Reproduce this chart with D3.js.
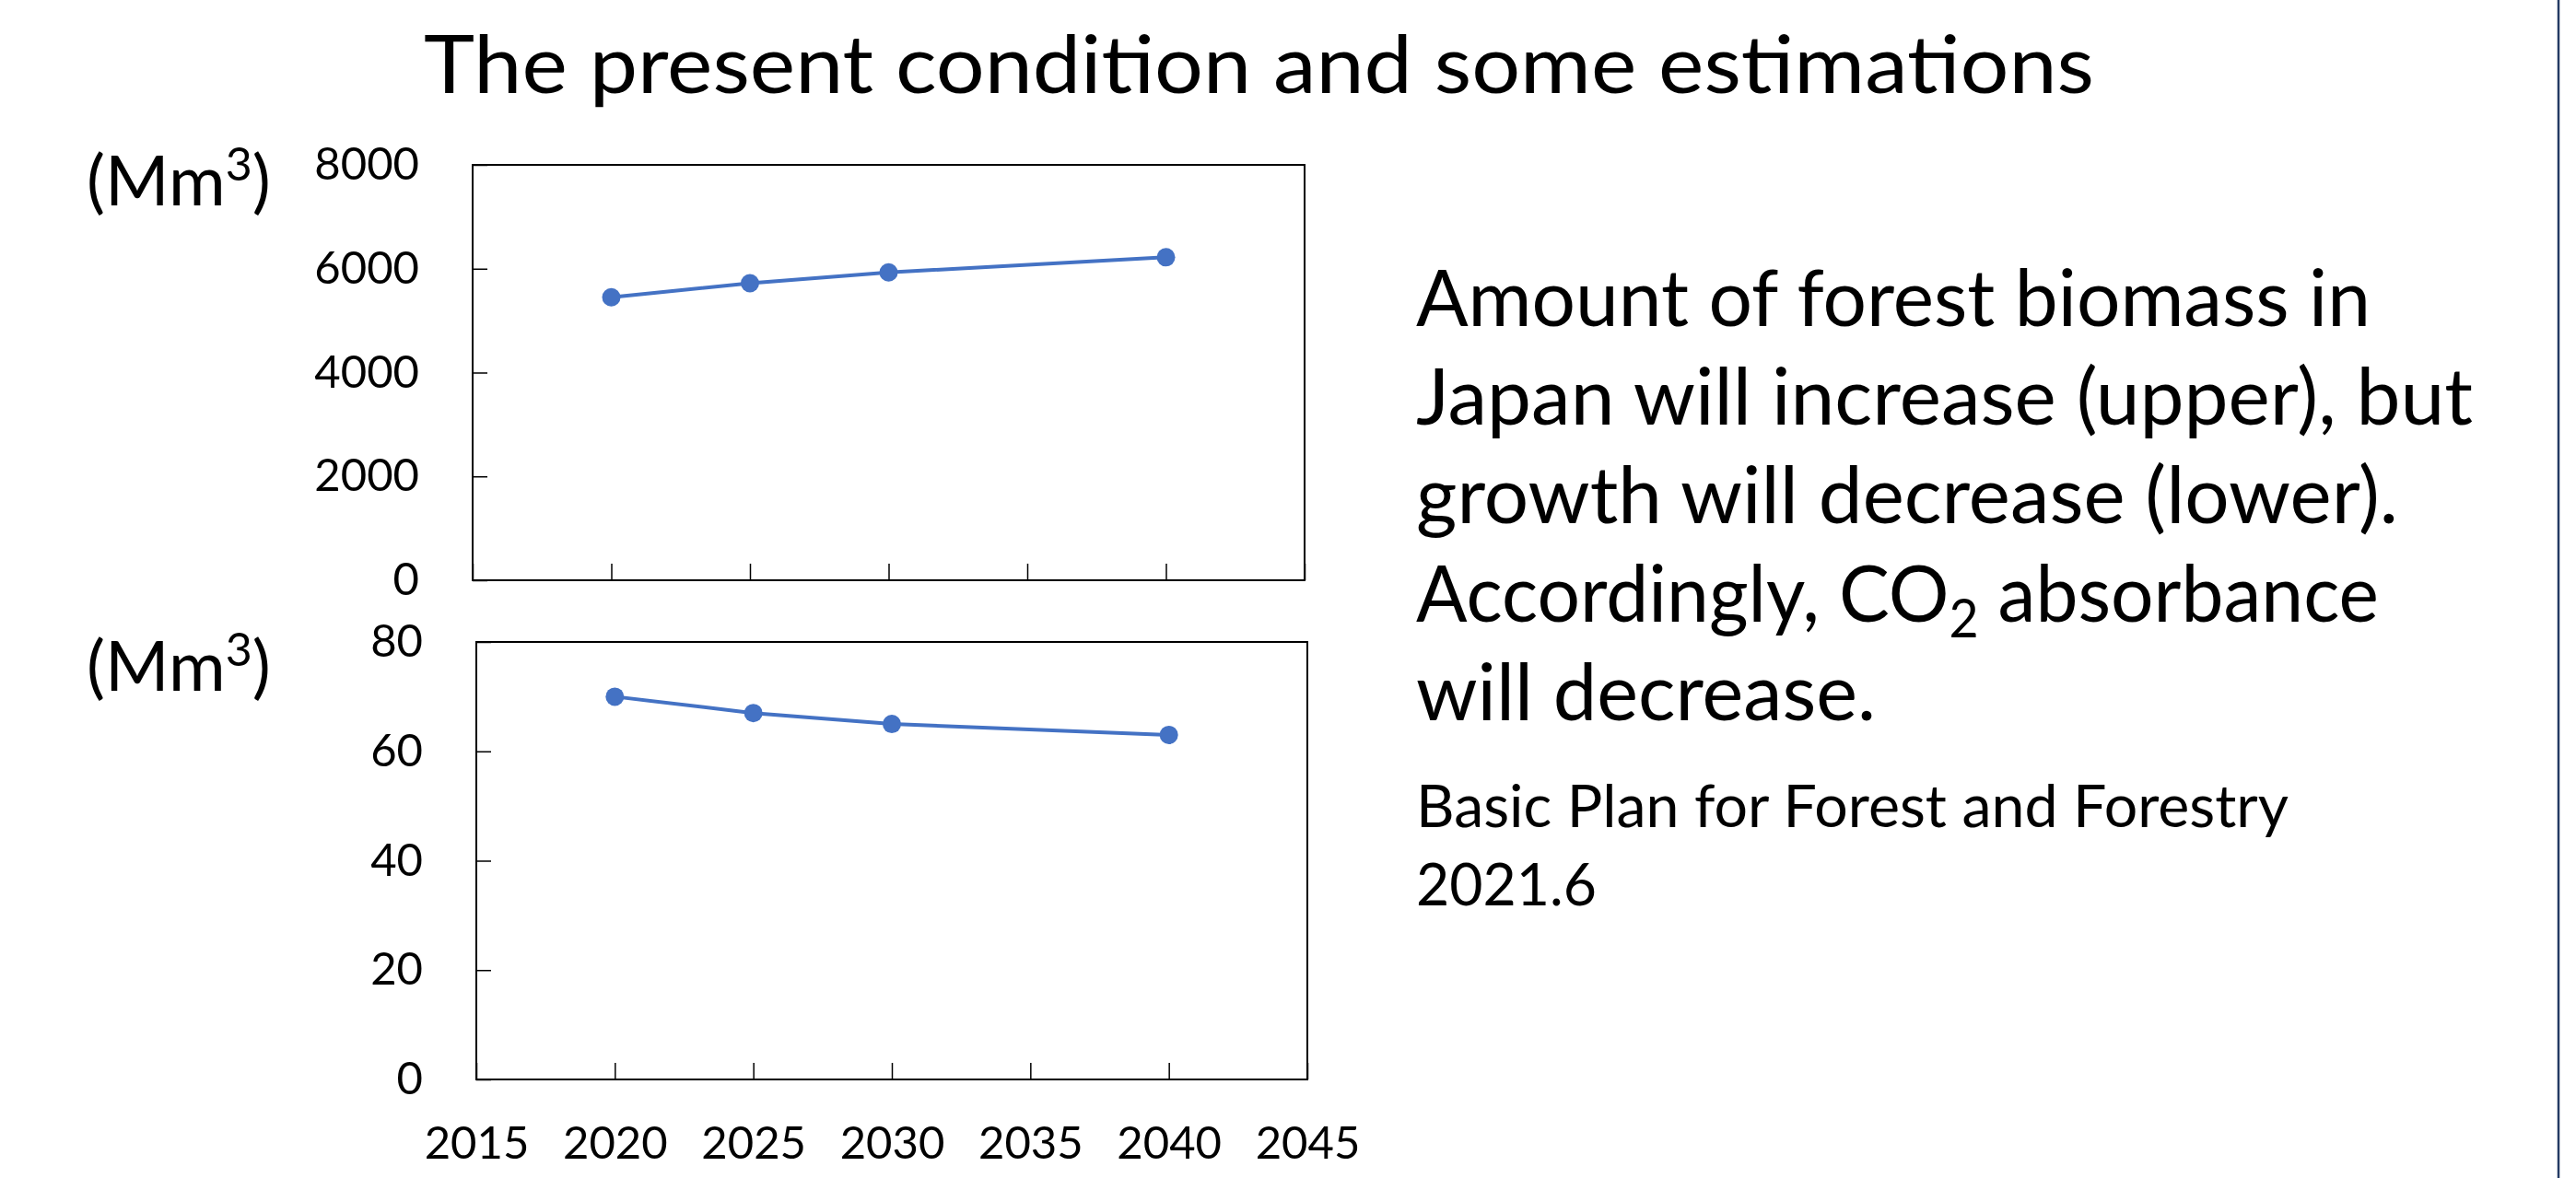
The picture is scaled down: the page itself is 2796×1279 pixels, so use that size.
<!DOCTYPE html>
<html>
<head>
<meta charset="utf-8">
<title>The present condition and some estimations</title>
<script src="https://d3js.org/d3.v7.min.js"></script>
<style>
  body { margin: 0; background: #fff; }
  svg text { font-family: Lato, "Open Sans", sans-serif; fill: #000; }
  .axis path { display: none; }
  .axis line { stroke: #000; stroke-width: 1.5; }
  .axis text { font-size: 49px; fill: #000; }
</style>
</head>
<body>
<div id="wrapper"></div>
<script>
// values
const years = [2020, 2025, 2030, 2040];
const stock = [5450, 5720, 5930, 6220];     // forest biomass, Mm3
const growth = [70, 67, 65, 63];            // growth, Mm3
const xTicks = [2015, 2020, 2025, 2030, 2035, 2040, 2045];
const stockTicks = [0, 2000, 4000, 6000, 8000];
const growthTicks = [0, 20, 40, 60, 80];
const bodyLines = [
  "Amount of forest biomass in",
  "Japan will increase (upper), but",
  "growth will decrease (lower).",
  ["Accordingly, CO", "2", " absorbance"],
  "will decrease."
];
const bodyWidths = [1036, 1147, 1066, 1045, 499];
const sourceLines = ["Basic Plan for Forest and Forestry", "2021.6"];
const sourceWidths = [947, 196];

const W = 2796, H = 1279;
const blue = "#4472C4";

const svg = d3.select("#wrapper").append("svg").attr("width", W).attr("height", H);

svg.append("text")
  .attr("x", 460).attr("y", 101)
  .attr("textLength", 1813).attr("lengthAdjust", "spacingAndGlyphs")
  .style("font-size", "88px")
  .text("The present condition and some estimations");

function drawPanel(box, values, yTicks, showXLabels) {
  const x = d3.scaleLinear().domain([2015, 2045]).range([box.left, box.right]);
  const y = d3.scaleLinear().domain([yTicks[0], yTicks[yTicks.length - 1]]).range([box.bottom, box.top]);

  svg.append("rect")
    .attr("x", box.left).attr("y", box.top)
    .attr("width", box.right - box.left).attr("height", box.bottom - box.top)
    .attr("fill", "none").attr("stroke", "#000").attr("stroke-width", 2);

  svg.append("g").attr("class", "axis")
    .attr("transform", `translate(${box.left},0)`)
    .call(d3.axisLeft(y).tickValues(yTicks).tickSize(-16).tickPadding(58).tickFormat(d3.format("d")));

  svg.append("g").attr("class", "axis")
    .attr("transform", `translate(0,${box.bottom})`)
    .call(d3.axisBottom(x).tickValues(xTicks).tickSize(-18).tickPadding(51)
      .tickFormat(showXLabels ? d3.format("d") : () => ""));

  const pts = years.map((yr, i) => [x(yr), y(values[i])]);
  svg.append("path")
    .attr("d", d3.line()(pts))
    .attr("fill", "none").attr("stroke", blue).attr("stroke-width", 4);
  svg.selectAll(null).data(pts).join("circle")
    .attr("cx", d => d[0]).attr("cy", d => d[1]).attr("r", 10).attr("fill", blue);

  const unit = svg.append("text")
    .attr("x", 94).attr("y", box.unitY)
    .style("font-size", "75px");
  unit.append("tspan").text("(Mm");
  unit.append("tspan").attr("dy", -27).style("font-size", "50px").text("3");
  unit.append("tspan").attr("dy", 27).text(")");
}

drawPanel({ left: 513, right: 1416, top: 179, bottom: 630, unitY: 223 }, stock, stockTicks, false);
drawPanel({ left: 517, right: 1419, top: 697, bottom: 1172, unitY: 750 }, growth, growthTicks, true);

// explanation text
const body = svg.append("g").style("font-size", "86px");
bodyLines.forEach((line, i) => {
  const t = body.append("text").attr("x", 1537).attr("y", 354 + i * 107)
    .attr("textLength", bodyWidths[i]).attr("lengthAdjust", "spacingAndGlyphs");
  if (Array.isArray(line)) {
    t.append("tspan").text(line[0]);
    t.append("tspan").attr("dy", 17).style("font-size", "58px").text(line[1]);
    t.append("tspan").attr("dy", -17).text(line[2]);
  } else {
    t.text(line);
  }
});

sourceLines.forEach((line, i) => {
  svg.append("text").attr("x", 1537).attr("y", 898 + i * 85)
    .attr("textLength", sourceWidths[i]).attr("lengthAdjust", "spacingAndGlyphs")
    .style("font-size", "64px").text(line);
});

// right edge rule
svg.append("line")
  .attr("x1", 2777).attr("x2", 2777).attr("y1", 0).attr("y2", H)
  .attr("stroke", "#243a64").attr("stroke-width", 2.5);
</script>
</body>
</html>
